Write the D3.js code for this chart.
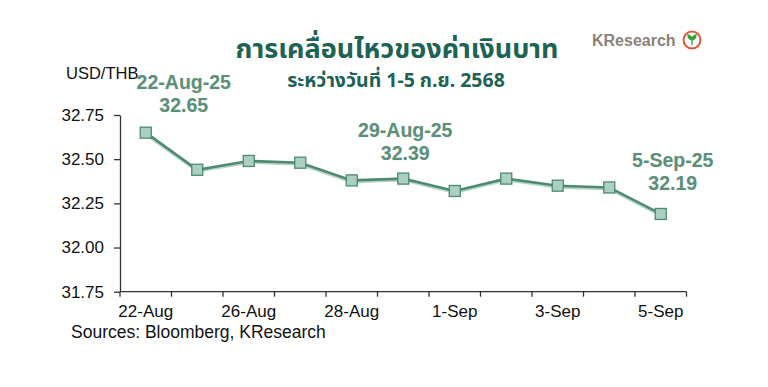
<!DOCTYPE html>
<html>
<head>
<meta charset="utf-8">
<script src="https://cdn.jsdelivr.net/npm/d3@7"></script>
<style>
  html, body { margin: 0; padding: 0; background: #fff; }
  svg text { font-family: "Liberation Sans", Arial, sans-serif; }
</style>
</head>
<body>
<div id="chart"></div>
<script>
const width = 768, height = 387;

// data
const dates = ["22-Aug", "25-Aug", "26-Aug", "27-Aug", "28-Aug", "29-Aug",
               "1-Sep", "2-Sep", "3-Sep", "4-Sep", "5-Sep"];
const rates = [32.65, 32.44, 32.49, 32.48, 32.38, 32.39, 32.32, 32.39, 32.35, 32.34, 32.19];
const tickLabels = ["22-Aug", "26-Aug", "28-Aug", "1-Sep", "3-Sep", "5-Sep"];
const yTicks = [31.75, 32.00, 32.25, 32.50, 32.75];
const callouts = [
  { date: "22-Aug", label: "22-Aug-25", dx: 38, dy: -44 },
  { date: "29-Aug", label: "29-Aug-25", dx: 2, dy: -42 },
  { date: "5-Sep", label: "5-Sep-25", dx: 12, dy: -47 }
];

const green = "#4d8a70", lightGreen = "#a9d0c1", textGreen = "#5b8f79";

const svg = d3.select("#chart").append("svg")
  .attr("width", width)
  .attr("height", height);

const x = d3.scaleBand()
  .domain(dates)
  .range([120, 686.5]);

const y = d3.scaleLinear()
  .domain([31.75, 32.75])
  .range([291.7, 115]);

// y axis
const yAxis = svg.append("g")
  .attr("transform", "translate(120,0)")
  .call(d3.axisLeft(y).tickValues(yTicks).tickFormat(d3.format(".2f")).tickSize(6).tickSizeOuter(0));
yAxis.select(".domain").attr("stroke", "#333").attr("stroke-width", 1.3);
yAxis.selectAll(".tick line").attr("stroke", "#333").attr("stroke-width", 1.3);
yAxis.selectAll(".tick text")
  .attr("x", -16)
  .attr("font-size", 17)
  .attr("fill", "#111")
  .attr("font-family", "Liberation Sans, Arial, sans-serif");

// x axis: ticks on every band edge, labels on every other date
const xAxis = svg.append("g")
  .attr("transform", `translate(0,${y(31.75)})`);
xAxis.append("line")
  .attr("x1", x.range()[0]).attr("x2", x.range()[1])
  .attr("stroke", "#333").attr("stroke-width", 1.3);
const edges = dates.map(d => x(d)).concat([x(dates[dates.length - 1]) + x.bandwidth()]);
xAxis.selectAll(".xtick")
  .data(edges)
  .enter().append("line")
  .attr("x1", d => d).attr("x2", d => d)
  .attr("y1", 0).attr("y2", 5)
  .attr("stroke", "#333").attr("stroke-width", 1.3);
xAxis.selectAll(".xlabel")
  .data(tickLabels)
  .enter().append("text")
  .attr("x", d => x(d) + x.bandwidth() / 2)
  .attr("y", 25)
  .attr("text-anchor", "middle")
  .attr("font-size", 17)
  .attr("fill", "#111")
  .text(d => d);

// line with a light edge underneath
const line = d3.line()
  .x((d, i) => x(dates[i]) + x.bandwidth() / 2)
  .y(d => y(d));

svg.append("path")
  .datum(rates)
  .attr("d", line)
  .attr("fill", "none")
  .attr("stroke", "#b8d6ca")
  .attr("stroke-width", 3)
  .attr("transform", "translate(0,1.5)");

svg.append("path")
  .datum(rates)
  .attr("d", line)
  .attr("fill", "none")
  .attr("stroke", green)
  .attr("stroke-width", 2.6);

svg.selectAll(".marker")
  .data(rates)
  .enter().append("rect")
  .attr("x", (d, i) => x(dates[i]) + x.bandwidth() / 2 - 5.5)
  .attr("y", d => y(d) - 5.5)
  .attr("width", 11)
  .attr("height", 11)
  .attr("fill", lightGreen)
  .attr("stroke", green)
  .attr("stroke-width", 1.3);

// callouts
callouts.forEach(c => {
  const i = dates.indexOf(c.date);
  const cx = x(c.date) + x.bandwidth() / 2 + c.dx;
  const cy = y(rates[i]) + c.dy;
  [c.label, rates[i].toFixed(2)].forEach((t, k) => {
    svg.append("text")
      .attr("x", cx)
      .attr("y", cy + k * 23)
      .attr("text-anchor", "middle")
      .attr("font-size", 19.5)
      .attr("font-weight", "bold")
      .attr("fill", textGreen)
      .attr("stroke", "#e9f1ec")
      .attr("stroke-width", 0.6)
      .attr("paint-order", "stroke")
      .text(t);
  });
});

// axis title
svg.append("text")
  .attr("x", 66)
  .attr("y", 79)
  .attr("font-size", 16.5)
  .attr("fill", "#111")
  .text("USD/THB");

// titles
svg.append("text")
  .attr("x", 397)
  .attr("y", 58)
  .attr("text-anchor", "middle")
  .attr("font-size", 27)
  .attr("font-weight", "bold")
  .attr("fill", "#1d6355")
  .style("font-family", "'Noto Sans', 'Noto Sans Thai', sans-serif")
  .text("การเคลื่อนไหวของค่าเงินบาท");

svg.append("text")
  .attr("x", 396)
  .attr("y", 87)
  .attr("text-anchor", "middle")
  .attr("font-size", 19.5)
  .attr("font-weight", "bold")
  .attr("fill", "#1d6355")
  .style("font-family", "'Noto Sans', 'Noto Sans Thai', sans-serif")
  .text("ระหว่างวันที่ 1-5 ก.ย. 2568");

// source
svg.append("text")
  .attr("x", 71)
  .attr("y", 338)
  .attr("font-size", 17.5)
  .attr("fill", "#111")
  .text("Sources: Bloomberg, KResearch");

// logo
svg.append("text")
  .attr("x", 592)
  .attr("y", 46)
  .attr("font-size", 16)
  .attr("font-weight", "bold")
  .attr("fill", "#8c8279")
  .text("KResearch");
const logo = svg.append("g").attr("transform", "translate(692,40)");
logo.append("circle").attr("r", 8.5).attr("fill", "#fff").attr("stroke", "#e8573a").attr("stroke-width", 2);
logo.append("path").attr("d", "M0,5 L0,-1 M0,0 Q-4,-1 -4,-5 Q0,-4 0,0 Q0,-4 4,-5 Q4,-1 0,0")
  .attr("fill", "#3aa03a").attr("stroke", "#3aa03a").attr("stroke-width", 1.3);
</script>
</body>
</html>
